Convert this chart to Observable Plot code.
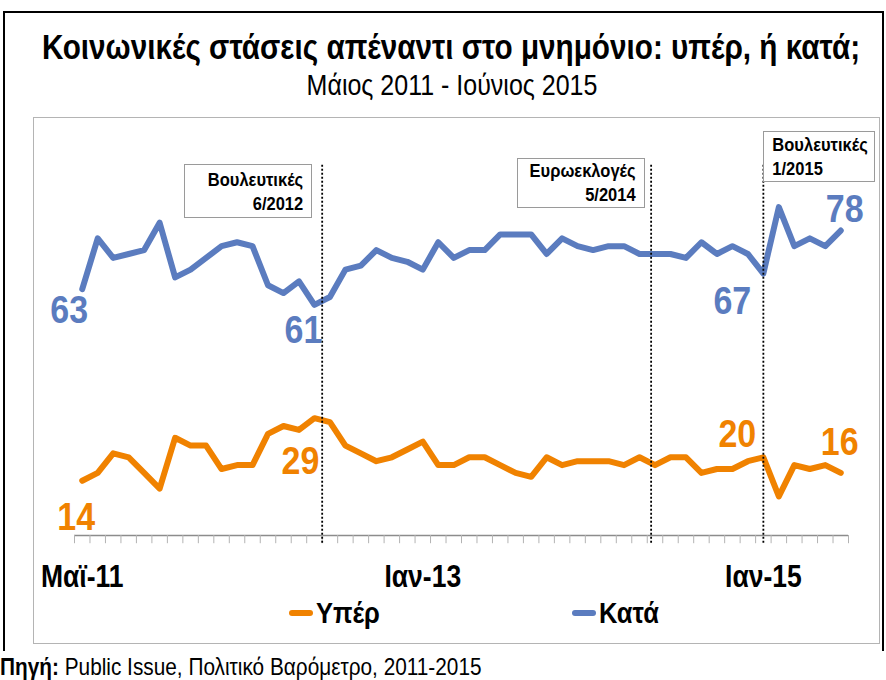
<!DOCTYPE html>
<html><head><meta charset="utf-8">
<script src="https://cdn.jsdelivr.net/npm/d3@7"></script>
<script src="https://cdn.jsdelivr.net/npm/@observablehq/plot@0.6"></script>
<style>
body{margin:0;background:#fff;}
#wrap{position:relative;width:886px;height:680px;overflow:hidden;font-family:"Liberation Sans","Arial",sans-serif;color:#000;}
.abs{position:absolute;white-space:nowrap;}
</style></head><body><div id="wrap"></div>
<script>
// ---- data ----
const title = "Κοινωνικές στάσεις απέναντι στο μνημόνιο: υπέρ, ή κατά;";
const subtitle = "Μάιος 2011 - Ιούνιος 2015";
const sourceLabel = "Πηγή:";
const sourceText = " Public Issue, Πολιτικό Βαρόμετρο, 2011-2015";
const seriesNames = ["Υπέρ", "Κατά"];
const yper = [14,16,21,20,16,12,25,23,23,17,18,18,26,28,27,30,29,23,21,19,20,22,24,18,18,20,20,18,16,15,20,18,19,19,19,18,20,18,20,20,16,17,17,19,20,10,18,17,18,16];
const kata = [63,76,71,72,73,80,66,68,71,74,75,74,64,62,65,59,61,68,69,73,71,70,68,75,71,73,73,77,77,77,72,76,74,73,74,74,72,72,72,71,75,72,74,72,67,84,74,76,74,78];
const tickLabels = ["Μαϊ-11", "Ιαν-13", "Ιαν-15"];
const tickWave = [0, 22, 44];
const eventLabels = [["Βουλευτικές", "6/2012"], ["Ευρωεκλογές", "5/2014"], ["Βουλευτικές", "1/2015"]];
const eventWave = [15.5, 36.75, 44];
const valueLabels = [
  {series: "Κατά", wave: 0, text: "63"},
  {series: "Κατά", wave: 15, text: "61"},
  {series: "Κατά", wave: 44, text: "67"},
  {series: "Κατά", wave: 49, text: "78"},
  {series: "Υπέρ", wave: 0, text: "14"},
  {series: "Υπέρ", wave: 15, text: "29"},
  {series: "Υπέρ", wave: 44, text: "20"},
  {series: "Υπέρ", wave: 49, text: "16"}
];

// ---- styles ----
const FONT = '"Liberation Sans","Arial",sans-serif';
const colors = {"Υπέρ": "#f08200", "Κατά": "#5b7cbf"};
const labelOffset = [[-13,21],[-11,26],[-31,28],[4,-21],[-6,37],[-14,43],[-26,-23],[-1,-30]];
const SVG_LEFT = 33, SVG_TOP = 117;
const STRETCH = "scaleY(1.15)";

const values = {"Υπέρ": yper, "Κατά": kata};
const rows = s => values[s].map((v, i) => ({series: s, wave: i, value: v}));
const boundaries = d3.range(yper.length + 1).map(i => i - 0.5);

const chart = Plot.plot({
  width: 847, height: 480,
  marginLeft: 41, marginRight: 32, marginTop: 27, marginBottom: 62,
  x: {domain: [-0.5, yper.length - 0.5], axis: null},
  y: {domain: [0, 100], axis: null},
  style: {fontFamily: FONT, background: "transparent", overflow: "visible"},
  marks: [
    Plot.ruleY([0], {stroke: "#8c8c8c", strokeWidth: 1.3}),
    Plot.ruleX(boundaries, {x: d => d, y1: 0, y2: -2.1, stroke: "#b3b3b3", strokeWidth: 1}),
    ...seriesNames.map(s => Plot.line(rows(s), {x: "wave", y: "value", stroke: colors[s], strokeWidth: 6, strokeLinejoin: "round", strokeLinecap: "round"})),
    Plot.ruleX(eventWave, {x: d => d, y1: -2, y2: 95, stroke: "#000", strokeWidth: 1.8, strokeDasharray: "2,2"}),
    ...valueLabels.map((d, i) => Plot.text([d], {
      x: "wave", y: e => values[e.series][e.wave], text: "text",
      dx: labelOffset[i][0], dy: labelOffset[i][1],
      fill: colors[d.series], fontSize: 34, fontWeight: "bold", textAnchor: "middle"
    })),
    Plot.text(tickLabels, {x: (d, i) => tickWave[i], y: () => 0, text: d => d, dy: 42, fontSize: 26.5, fontWeight: "bold", fill: "#000"})
  ]
});

// stretch SVG texts vertically about their anchor point
chart.querySelectorAll("text").forEach(t => {
  const tr = t.getAttribute("transform");
  if (tr) {
    t.setAttribute("transform", tr + " scale(1,1.15)");
  } else {
    const x = +t.getAttribute("x") || 0, y = +t.getAttribute("y") || 0;
    t.setAttribute("transform", `translate(${x},${y}) scale(1,1.15) translate(${-x},${-y})`);
  }
});

const wrap = document.getElementById("wrap");
function add(html, css, stretch) {
  const el = document.createElement("div");
  el.className = "abs";
  el.innerHTML = html;
  Object.assign(el.style, css);
  if (stretch) el.style.transform = (css.transform ? css.transform + " " : "") + STRETCH;
  wrap.appendChild(el);
  return el;
}
// outer frame (no bottom edge)
add("", {left: "3px", top: "11px", width: "881px", height: "640px", borderTop: "2px solid #000", borderLeft: "2px solid #000", borderRight: "2px solid #000", boxSizing: "border-box"});
// inner chart frame
add("", {left: SVG_LEFT + "px", top: SVG_TOP + "px", width: "847px", height: "527px", border: "1px solid #b4b4b4", boxSizing: "border-box"});

add(title, {left: "451px", top: "30px", transform: "translateX(-50%)", fontSize: "29.7px", fontWeight: "bold", lineHeight: "34px"}, true);
add(subtitle, {left: "452px", top: "72px", transform: "translateX(-50%)", fontSize: "25px", lineHeight: "26px"}, true);

chart.style.position = "absolute";
chart.style.left = SVG_LEFT + "px";
chart.style.top = SVG_TOP + "px";
wrap.appendChild(chart);

// event annotation boxes
const sx = chart.scale("x");
const pageX = w => SVG_LEFT + sx.apply(w);
const boxGeom = [
  {anchor: "right", gap: 9.5, width: 128, top: 164, height: 54, pad: 7},
  {anchor: "right", gap: 6, width: 128, top: 158, height: 50, pad: 4},
  {anchor: "left", gap: 0.5, width: 112, top: 131, height: 51, pad: 5}
];
eventLabels.forEach((lines, i) => {
  const g = boxGeom[i];
  const xr = pageX(eventWave[i]);
  const left = g.anchor === "right" ? xr - g.gap - g.width : xr + g.gap;
  add("", {
    left: left + "px", top: g.top + "px", width: g.width + "px", height: g.height + "px",
    boxSizing: "border-box", border: "1px solid #9a9a9a", background: "#fff"
  });
  add(lines.map(t => "<div>" + t + "</div>").join(""), {
    left: left + "px", top: (g.top + g.pad) + "px", width: g.width + "px",
    boxSizing: "border-box", fontSize: "16.5px", fontWeight: "bold", lineHeight: "21px",
    textAlign: g.anchor === "right" ? "right" : "left",
    paddingRight: "9px", paddingLeft: "9px"
  }, true);
});

// legend
const legendPos = [{sw: 289, tx: 316}, {sw: 572, tx: 599}];
seriesNames.forEach((s, i) => {
  add("", {left: legendPos[i].sw + "px", top: "610px", width: "24px", height: "6px", borderRadius: "3px", background: colors[s]});
  add(s, {left: legendPos[i].tx + "px", top: "597px", fontSize: "25.5px", fontWeight: "bold", lineHeight: "32px"}, true);
});

// source
add("<b>" + sourceLabel + "</b>" + sourceText, {left: "0px", top: "656px", fontSize: "20.8px", lineHeight: "22px"}, true);
</script></body></html>
